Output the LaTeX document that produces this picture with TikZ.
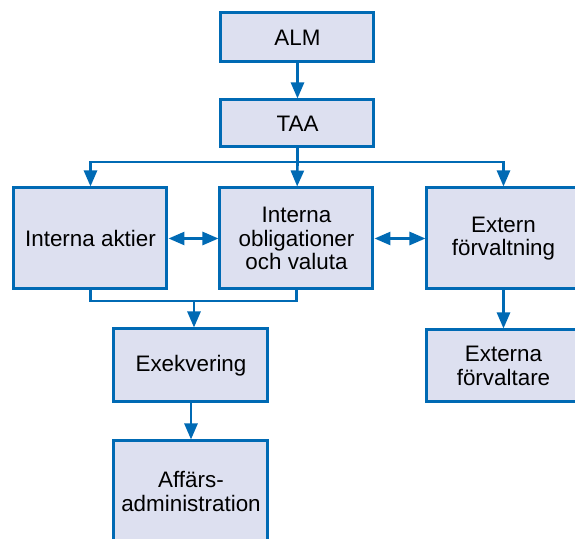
\documentclass[tikz,border=0pt]{standalone}
\usepackage{fontspec}
\setmainfont{Liberation Sans}
\usetikzlibrary{arrows.meta,positioning}
\definecolor{boxblue}{RGB}{0,106,180}
\definecolor{boxfill}{RGB}{221,224,240}

\begin{document}
\begin{tikzpicture}[x=0.5pt,y=-0.5pt,
	box/.style={draw=boxblue,fill=boxfill,line width=1.5pt,minimum width=76.5pt,
		align=center,inner sep=0pt,font=\fontsize{11.2}{11.7}\selectfont},
	conn/.style={draw=boxblue,line width=1.3pt},
	arr/.style={conn,-{Triangle[length=8pt,width=6.5pt]}},
	darr/.style={conn,{Triangle[length=8pt,width=6.5pt]}-{Triangle[length=8pt,width=6.5pt]}}]
			\useasboundingbox (0,0) rectangle (575,539);
			\clip (0,0) rectangle (575,539);
			% boxes
			\node[box,minimum height=24.5pt] (alm) at (297.5,37.5) {ALM};
			\node[box,minimum height=23.5pt] (taa) at (297.5,123.5) {TAA};
			\node[box,minimum height=50.5pt] (aktier) at (90.5,238.5) {Interna aktier};
			\node[box,minimum height=50.5pt] (oblig) at (296.5,238.5) {Interna\\obligationer\\och valuta};
			\node[box,minimum height=50.5pt] (extern) at (503.5,238.5) {Extern\\förvaltning};
			\node[box,minimum height=36.5pt,minimum width=77pt] (exek) at (191,365.5) {Exekvering};
			\node[box,minimum height=36pt] (externa) at (503.5,366) {Externa\\förvaltare};
			\node[box,minimum height=50.5pt,minimum width=77pt] (affars) at (191,491.5) {Affärs-\\administration};
			% connectors
			\coordinate (split) at (297.5,162);
			\coordinate (join) at (194,301);
			\draw[arr] (alm) -- (taa);
			\draw[conn] (taa) -- (split);
			\draw[arr] (split) -| (aktier);
			\draw[arr] (split) -| (extern);
			\draw[arr] (split) -- (oblig);
			\draw[darr] (aktier) -- (oblig);
			\draw[darr] (oblig) -- (extern);
			\draw[conn] (aktier.south) |- (join) -| (oblig.south);
			\draw[arr] (join) -- (join |- exek.north);
			\draw[arr] (exek) -- (affars);
			\draw[arr] (extern) -- (externa);
		\end{tikzpicture}
\end{document}
